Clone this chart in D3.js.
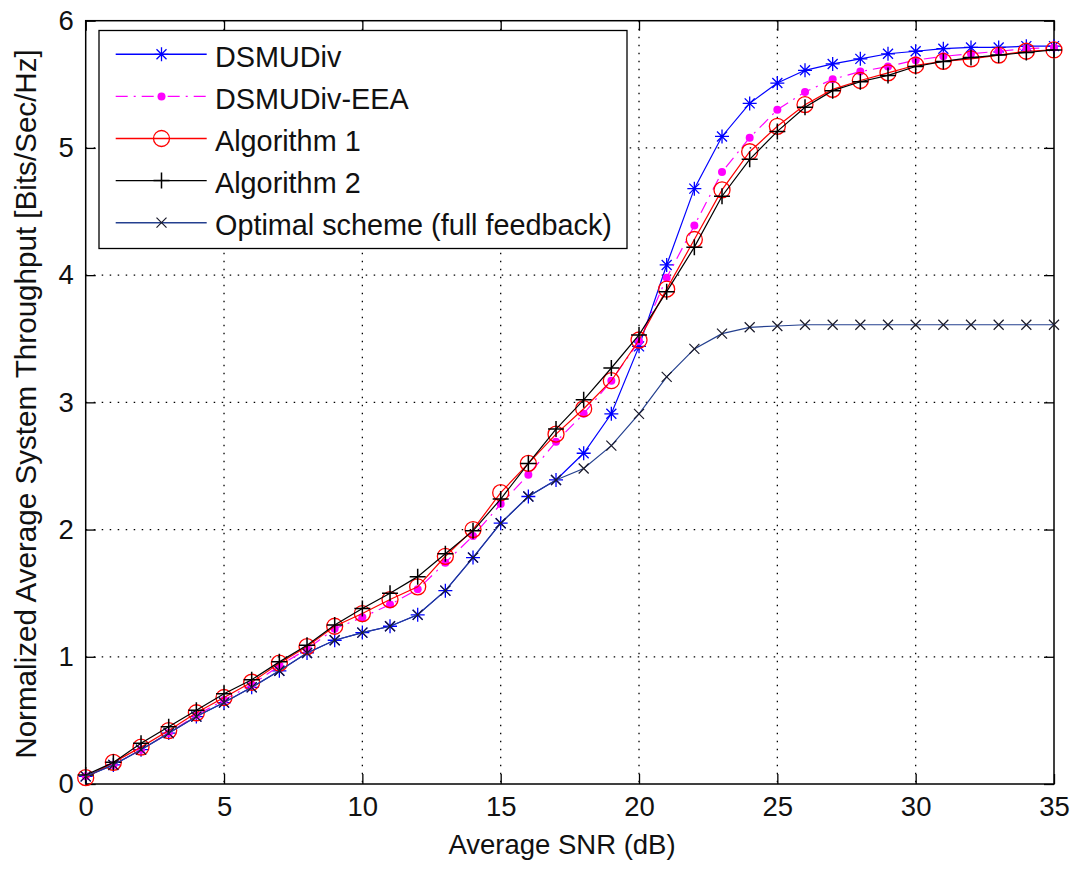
<!DOCTYPE html>
<html>
<head>
<meta charset="utf-8">
<script src="https://cdn.jsdelivr.net/npm/d3@7/dist/d3.min.js"></script>
<style>
  html, body { margin: 0; padding: 0; background: #fff; }
  svg text { font-family: "Liberation Sans", Arial, Helvetica, sans-serif; fill: #111; }
</style>
</head>
<body>
<svg id="chart" width="1077" height="869"></svg>
<script>
// ---- data ----
const snr = d3.range(0, 36); // 0..35 dB
const dsmudiv = [0.06,0.15,0.27,0.40,0.53,0.64,0.76,0.89,1.03,1.13,1.19,1.24,1.33,1.52,1.78,2.05,2.26,2.39,2.60,2.91,3.44,4.08,4.68,5.09,5.35,5.51,5.61,5.66,5.70,5.74,5.76,5.78,5.79,5.79,5.80,5.80];
const dsmudivEEA = [0.06,0.15,0.27,0.40,0.54,0.66,0.78,0.93,1.06,1.22,1.31,1.41,1.53,1.74,1.95,2.20,2.43,2.69,2.91,3.17,3.48,3.98,4.39,4.81,5.08,5.30,5.44,5.54,5.60,5.64,5.69,5.72,5.74,5.76,5.78,5.79];
const algorithm1 = [0.05,0.17,0.29,0.42,0.56,0.68,0.80,0.95,1.08,1.24,1.34,1.45,1.55,1.79,2.00,2.29,2.52,2.75,2.95,3.17,3.49,3.89,4.28,4.67,4.97,5.17,5.34,5.46,5.53,5.59,5.65,5.68,5.70,5.73,5.76,5.77];
const algorithm2 = [0.07,0.17,0.32,0.45,0.58,0.71,0.82,0.96,1.09,1.25,1.38,1.50,1.63,1.81,1.99,2.24,2.52,2.79,3.02,3.27,3.53,3.87,4.22,4.62,4.91,5.13,5.32,5.45,5.52,5.57,5.64,5.68,5.71,5.73,5.75,5.77];
const optimal = [0.06,0.15,0.27,0.40,0.53,0.64,0.76,0.89,1.03,1.13,1.19,1.24,1.33,1.52,1.78,2.05,2.26,2.39,2.48,2.66,2.91,3.20,3.42,3.54,3.59,3.60,3.61,3.61,3.61,3.61,3.61,3.61,3.61,3.61,3.61,3.61];
const seriesNames = ["DSMUDiv", "DSMUDiv-EEA", "Algorithm 1", "Algorithm 2", "Optimal scheme (full feedback)"];
const xTicks = [0,5,10,15,20,25,30,35];
const yTicks = [0,1,2,3,4,5,6];
const xLabel = "Average SNR (dB)";
const yLabel = "Normalized Average System Throughput [Bits/Sec/Hz]";

// ---- styles ----
const styles = [
  {values: dsmudiv,    color: "#0000ff", dash: null,        marker: "star",   mcolor: "#0000ff"},
  {values: dsmudivEEA, color: "#ff00ff", dash: "12,6,2,6",  marker: "dot",    mcolor: "#ff00ff"},
  {values: algorithm1, color: "#ff0000", dash: null,        marker: "circle", mcolor: "#ff0000"},
  {values: algorithm2, color: "#000000", dash: null,        marker: "plus",   mcolor: "#000000"},
  {values: optimal,    color: "#24408f", dash: null,        marker: "cross",  mcolor: "#1a1a2a"}
];

const L = 85.7, R = 1054, T = 20.7, B = 784;
const FS = 27.5;
const svg = d3.select("#chart");
const x = d3.scaleLinear().domain([0, 35]).range([L, R]);
const y = d3.scaleLinear().domain([0, 6]).range([B, T]);

// grid
const grid = svg.append("g");
grid.selectAll("line.gx").data(xTicks.slice(1, -1)).join("line")
  .attr("x1", d => x(d)).attr("x2", d => x(d)).attr("y1", T).attr("y2", B)
  .attr("stroke", "#000").attr("stroke-width", 1.3).attr("stroke-dasharray", "1.5,6.5");
grid.selectAll("line.gy").data(yTicks.slice(1, -1)).join("line")
  .attr("y1", d => y(d)).attr("y2", d => y(d)).attr("x1", L).attr("x2", R)
  .attr("stroke", "#000").attr("stroke-width", 1.3).attr("stroke-dasharray", "1.5,6.5");

// axes (inward ticks)
function styleAxis(g, showText) {
  g.select(".domain").remove();
  g.selectAll(".tick line").attr("stroke", "#000").attr("stroke-width", 1.3);
  g.selectAll(".tick text").style("font-size", FS + "px").attr("fill", "#111");
  if (!showText) g.selectAll(".tick text").remove();
}
svg.append("g").attr("transform", `translate(0,${B})`)
  .call(d3.axisBottom(x).tickValues(xTicks).tickSize(-10).tickPadding(12).tickFormat(d3.format("d")))
  .call(g => styleAxis(g, true));
svg.append("g").attr("transform", `translate(0,${T})`)
  .call(d3.axisTop(x).tickValues(xTicks).tickSize(-10))
  .call(g => styleAxis(g, false));
svg.append("g").attr("transform", `translate(${L},0)`)
  .call(d3.axisLeft(y).tickValues(yTicks).tickSize(-10).tickPadding(12).tickFormat(d3.format("d")))
  .call(g => styleAxis(g, true));
svg.append("g").attr("transform", `translate(${R},0)`)
  .call(d3.axisRight(y).tickValues(yTicks).tickSize(-10))
  .call(g => styleAxis(g, false));

// box
svg.append("rect").attr("x", L).attr("y", T).attr("width", R - L).attr("height", B - T)
  .attr("fill", "none").attr("stroke", "#000").attr("stroke-width", 1.5);

// markers
function drawMarker(g, type, cx, cy, color) {
  if (type === "star") {
    const a = 7, b = 5;
    g.append("path").attr("d", `M${cx-a},${cy}H${cx+a}M${cx},${cy-a}V${cy+a}M${cx-b},${cy-b}L${cx+b},${cy+b}M${cx-b},${cy+b}L${cx+b},${cy-b}`)
      .attr("stroke", color).attr("stroke-width", 1.3).attr("fill", "none");
  } else if (type === "dot") {
    g.append("circle").attr("cx", cx).attr("cy", cy).attr("r", 4).attr("fill", color);
  } else if (type === "circle") {
    g.append("circle").attr("cx", cx).attr("cy", cy).attr("r", 8).attr("fill", "none")
      .attr("stroke", color).attr("stroke-width", 1.3);
  } else if (type === "plus") {
    const a = 8;
    g.append("path").attr("d", `M${cx-a},${cy}H${cx+a}M${cx},${cy-a}V${cy+a}`)
      .attr("stroke", color).attr("stroke-width", 1.5).attr("fill", "none");
  } else if (type === "cross") {
    const a = 5;
    g.append("path").attr("d", `M${cx-a},${cy-a}L${cx+a},${cy+a}M${cx-a},${cy+a}L${cx+a},${cy-a}`)
      .attr("stroke", color).attr("stroke-width", 1.2).attr("fill", "none");
  }
}

const line = d3.line().x((d, i) => x(snr[i])).y(d => y(d));
styles.forEach(s => {
  const g = svg.append("g");
  g.append("path").datum(s.values).attr("d", line)
    .attr("fill", "none").attr("stroke", s.color).attr("stroke-width", 1.2)
    .attr("stroke-dasharray", s.dash);
  s.values.forEach((v, i) => drawMarker(g, s.marker, x(snr[i]), y(v), s.mcolor));
});

// legend
const lg = svg.append("g");
lg.append("rect").attr("x", 99).attr("y", 30.5).attr("width", 528).attr("height", 218)
  .attr("fill", "#fff").attr("stroke", "#000").attr("stroke-width", 1.3);
seriesNames.forEach((name, i) => {
  const ly = 54.3 + i * 42.1;
  const s = styles[i];
  lg.append("line").attr("x1", 115.7).attr("x2", 206.7).attr("y1", ly).attr("y2", ly)
    .attr("stroke", s.color).attr("stroke-width", 1.4).attr("stroke-dasharray", s.dash);
  drawMarker(lg, s.marker, 161.5, ly, s.mcolor);
  lg.append("text").attr("x", 215).attr("y", ly + 12.5).style("font-size", "28.8px").text(name);
});

// axis labels
svg.append("text").attr("x", 562).attr("y", 854).attr("text-anchor", "middle")
  .style("font-size", FS + "px").text(xLabel);
svg.append("text").attr("transform", "translate(36,404) rotate(-90)").attr("text-anchor", "middle")
  .style("font-size", "29.6px").text(yLabel);
</script>
</body>
</html>
